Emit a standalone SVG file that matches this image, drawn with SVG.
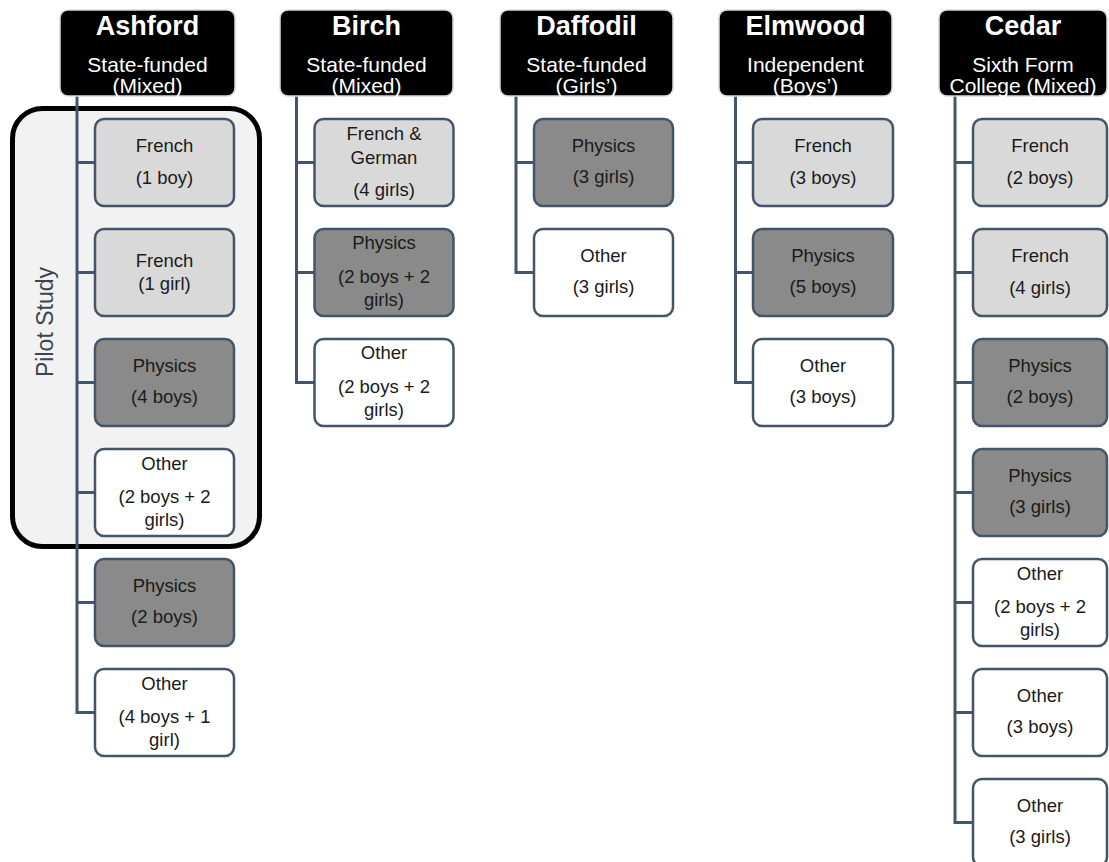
<svg xmlns="http://www.w3.org/2000/svg" width="1109" height="862" viewBox="0 0 1109 862">
<style>
.hdr{fill:#000;stroke:#d9d9d9;stroke-width:1.5}
.ttl{font-family:"Liberation Sans",Arial,sans-serif;font-weight:bold;font-size:27px;fill:#fff;text-anchor:middle}
.sub{font-family:"Liberation Sans",Arial,sans-serif;font-size:21px;fill:#fff;text-anchor:middle}
.nd{stroke:#44546a;stroke-width:2.5}
.lt{fill:#d9d9d9}.dk{fill:#8a8a8a}.wh{fill:#fff}
.tx{font-family:"Liberation Sans",Arial,sans-serif;font-size:18.5px;fill:#1a1a1a;text-anchor:middle}
.cn{fill:none;stroke:#44546a;stroke-width:3}
.pilot{fill:#f2f2f2;stroke:#000;stroke-width:5}
.plt{font-family:"Liberation Sans",Arial,sans-serif;font-size:23px;fill:#3d4450;text-anchor:middle}
</style>
<rect width="1109" height="862" fill="#fff"/>
<g id="pilot-study">
<rect class="pilot" x="12.5" y="108.5" width="247" height="438" rx="30"/>
<text class="plt" x="53" y="322" transform="rotate(-90 53 322)">Pilot Study</text>
</g>
<g id="connectors">
<path class="cn" d="M77,96 V712.5 H95 M77,162.5 H95 M77,272.5 H95 M77,382.5 H95 M77,492.5 H95 M77,602.5 H95"/>
<path class="cn" d="M296.5,96 V382.5 H314.5 M296.5,162.5 H314.5 M296.5,272.5 H314.5"/>
<path class="cn" d="M516,96 V272.5 H534 M516,162.5 H534"/>
<path class="cn" d="M735.5,96 V382.5 H753 M735.5,162.5 H753 M735.5,272.5 H753"/>
<path class="cn" d="M955,96 V822.5 H973 M955,162.5 H973 M955,272.5 H973 M955,382.5 H973 M955,492.5 H973 M955,602.5 H973 M955,712.5 H973"/>
</g>
<g id="ashford">
<rect class="hdr" x="60" y="10" width="175" height="86" rx="8"/>
<text class="ttl" x="147.5" y="35">Ashford</text>
<text class="sub" x="147.5" y="72">State-funded</text>
<text class="sub" x="147.5" y="93">(Mixed)</text>
</g>
<g id="ashford-french-boy"><rect class="nd lt" x="95" y="119" width="139" height="87" rx="9"/><text class="tx" x="164.5" y="152">French</text><text class="tx" x="164.5" y="184">(1 boy)</text></g>
<g id="ashford-french-girl"><rect class="nd lt" x="95" y="229" width="139" height="87" rx="9"/><text class="tx" x="164.5" y="267">French</text><text class="tx" x="164.5" y="290">(1 girl)</text></g>
<g id="ashford-physics-4boys"><rect class="nd dk" x="95" y="339" width="139" height="87" rx="9"/><text class="tx" x="164.5" y="372">Physics</text><text class="tx" x="164.5" y="403">(4 boys)</text></g>
<g id="ashford-other-2b2g"><rect class="nd wh" x="95" y="449" width="139" height="87" rx="9"/><text class="tx" x="164.5" y="470">Other</text><text class="tx" x="164.5" y="503">(2 boys + 2</text><text class="tx" x="164.5" y="526">girls)</text></g>
<g id="ashford-physics-2boys"><rect class="nd dk" x="95" y="559" width="139" height="87" rx="9"/><text class="tx" x="164.5" y="592">Physics</text><text class="tx" x="164.5" y="623">(2 boys)</text></g>
<g id="ashford-other-4b1g"><rect class="nd wh" x="95" y="669" width="139" height="87" rx="9"/><text class="tx" x="164.5" y="690">Other</text><text class="tx" x="164.5" y="723">(4 boys + 1</text><text class="tx" x="164.5" y="746">girl)</text></g>

<g id="birch">
<rect class="hdr" x="280" y="10" width="173" height="86" rx="8"/>
<text class="ttl" x="366.5" y="35">Birch</text>
<text class="sub" x="366.5" y="72">State-funded</text>
<text class="sub" x="366.5" y="93">(Mixed)</text>
</g>
<g id="birch-french-german"><rect class="nd lt" x="314.5" y="119" width="139" height="87" rx="9"/><text class="tx" x="384" y="140">French &amp;</text><text class="tx" x="384" y="164">German</text><text class="tx" x="384" y="196">(4 girls)</text></g>
<g id="birch-physics"><rect class="nd dk" x="314.5" y="229" width="139" height="87" rx="9"/><text class="tx" x="384" y="249">Physics</text><text class="tx" x="384" y="283">(2 boys + 2</text><text class="tx" x="384" y="306">girls)</text></g>
<g id="birch-other"><rect class="nd wh" x="314.5" y="339" width="139" height="87" rx="9"/><text class="tx" x="384" y="359">Other</text><text class="tx" x="384" y="393">(2 boys + 2</text><text class="tx" x="384" y="416">girls)</text></g>

<g id="daffodil">
<rect class="hdr" x="500" y="10" width="173" height="86" rx="8"/>
<text class="ttl" x="586.5" y="35">Daffodil</text>
<text class="sub" x="586.5" y="72">State-funded</text>
<text class="sub" x="586.5" y="93">(Girls’)</text>
</g>
<g id="daffodil-physics"><rect class="nd dk" x="534" y="119" width="139" height="87" rx="9"/><text class="tx" x="603.5" y="152">Physics</text><text class="tx" x="603.5" y="183">(3 girls)</text></g>
<g id="daffodil-other"><rect class="nd wh" x="534" y="229" width="139" height="87" rx="9"/><text class="tx" x="603.5" y="262">Other</text><text class="tx" x="603.5" y="293">(3 girls)</text></g>

<g id="elmwood">
<rect class="hdr" x="719" y="10" width="173" height="86" rx="8"/>
<text class="ttl" x="805.5" y="35">Elmwood</text>
<text class="sub" x="805.5" y="72">Independent</text>
<text class="sub" x="805.5" y="93">(Boys’)</text>
</g>
<g id="elmwood-french"><rect class="nd lt" x="753" y="119" width="140" height="87" rx="9"/><text class="tx" x="823" y="152">French</text><text class="tx" x="823" y="184">(3 boys)</text></g>
<g id="elmwood-physics"><rect class="nd dk" x="753" y="229" width="140" height="87" rx="9"/><text class="tx" x="823" y="262">Physics</text><text class="tx" x="823" y="293">(5 boys)</text></g>
<g id="elmwood-other"><rect class="nd wh" x="753" y="339" width="140" height="87" rx="9"/><text class="tx" x="823" y="372">Other</text><text class="tx" x="823" y="403">(3 boys)</text></g>

<g id="cedar">
<rect class="hdr" x="939" y="10" width="168" height="86" rx="8"/>
<text class="ttl" x="1023" y="35">Cedar</text>
<text class="sub" x="1023" y="72">Sixth Form</text>
<text class="sub" x="1023" y="93">College (Mixed)</text>
</g>
<g id="cedar-french-2boys"><rect class="nd lt" x="973" y="119" width="134" height="87" rx="9"/><text class="tx" x="1040" y="152">French</text><text class="tx" x="1040" y="184">(2 boys)</text></g>
<g id="cedar-french-4girls"><rect class="nd lt" x="973" y="229" width="134" height="87" rx="9"/><text class="tx" x="1040" y="262">French</text><text class="tx" x="1040" y="294">(4 girls)</text></g>
<g id="cedar-physics-2boys"><rect class="nd dk" x="973" y="339" width="134" height="87" rx="9"/><text class="tx" x="1040" y="372">Physics</text><text class="tx" x="1040" y="403">(2 boys)</text></g>
<g id="cedar-physics-3girls"><rect class="nd dk" x="973" y="449" width="134" height="87" rx="9"/><text class="tx" x="1040" y="482">Physics</text><text class="tx" x="1040" y="513">(3 girls)</text></g>
<g id="cedar-other-2b2g"><rect class="nd wh" x="973" y="559" width="134" height="87" rx="9"/><text class="tx" x="1040" y="580">Other</text><text class="tx" x="1040" y="613">(2 boys + 2</text><text class="tx" x="1040" y="636">girls)</text></g>
<g id="cedar-other-3boys"><rect class="nd wh" x="973" y="669" width="134" height="87" rx="9"/><text class="tx" x="1040" y="702">Other</text><text class="tx" x="1040" y="733">(3 boys)</text></g>
<g id="cedar-other-3girls"><rect class="nd wh" x="973" y="779" width="134" height="87" rx="9"/><text class="tx" x="1040" y="812">Other</text><text class="tx" x="1040" y="843">(3 girls)</text></g>
</svg>
